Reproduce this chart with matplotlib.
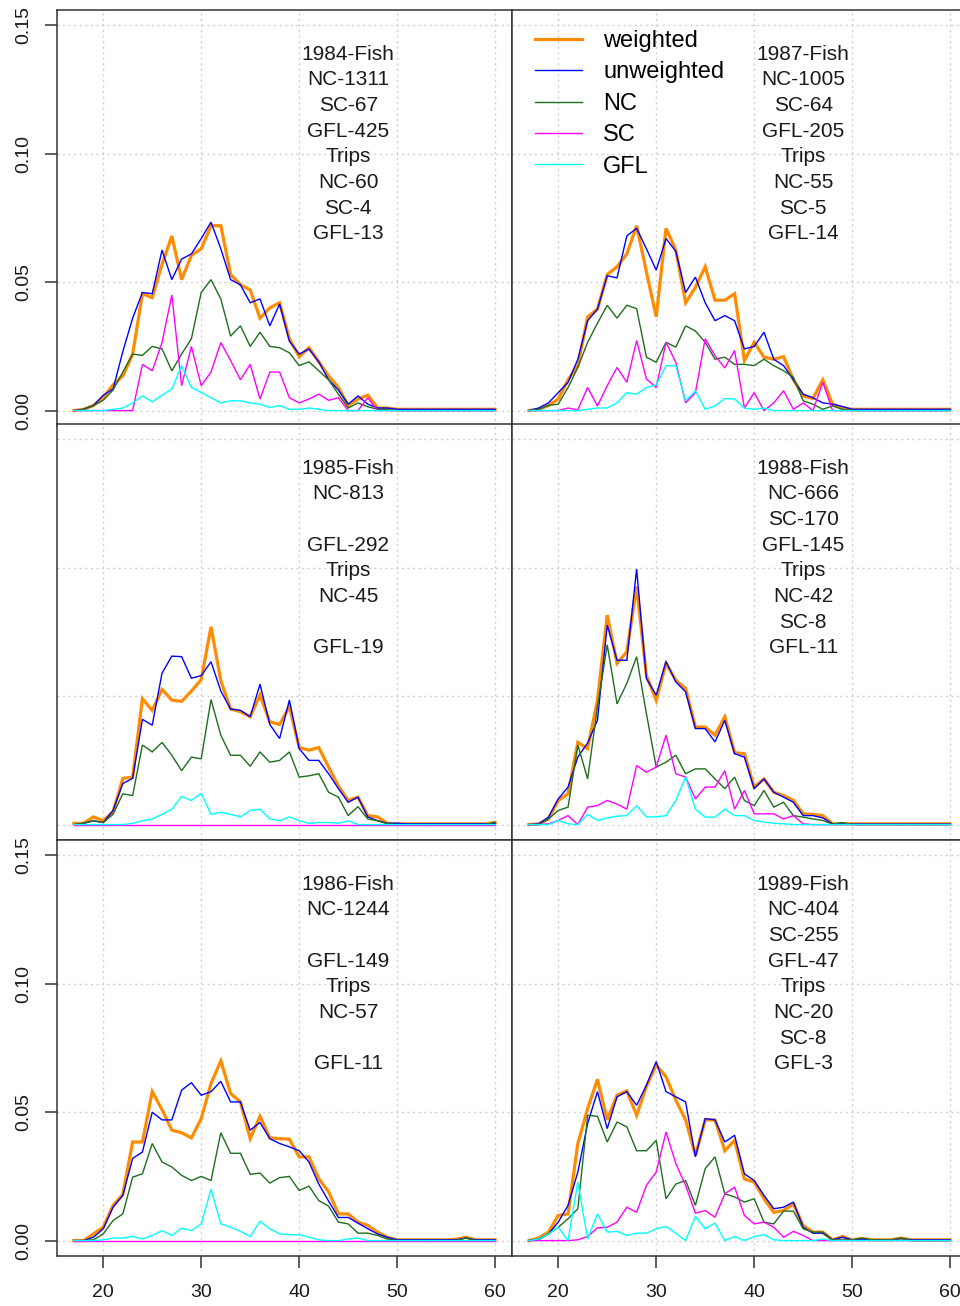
import numpy as np
import matplotlib.pyplot as plt
from matplotlib.lines import Line2D

plt.rcParams['font.family'] = ['Liberation Sans', 'DejaVu Sans']

# length bins (cm)
lengths = np.arange(17, 61)

# proportions at length, bins 17..60
weighted = {
    1984: [0, 0.0005, 0.002, 0.005, 0.010, 0.0135, 0.022, 0.0455, 0.044, 0.057, 0.068, 0.051, 0.0605, 0.063,
           0.072, 0.072, 0.053, 0.049, 0.047, 0.036, 0.040, 0.042, 0.028, 0.021, 0.0245, 0.019, 0.0135, 0.009,
           0.002, 0.0045, 0.006, 0.001, 0.001, 0.0005, 0.0005, 0.0005, 0.0005, 0.0005, 0.0005, 0.0005, 0.0005,
           0.0005, 0.0005, 0.0005],
    1985: [0.0005, 0.0005, 0.003, 0.0015, 0.005, 0.018, 0.0185, 0.049, 0.0445, 0.0526, 0.0485, 0.048, 0.052,
           0.0565, 0.077, 0.056, 0.045, 0.044, 0.042, 0.0505, 0.040, 0.039, 0.046, 0.030, 0.029, 0.030, 0.0224,
           0.015, 0.0094, 0.0107, 0.0035, 0.003, 0.0005, 0.0003, 0.0003, 0.0003, 0.0003, 0.0003, 0.0003, 0.0003,
           0.0003, 0.0003, 0.0003, 0.0008],
    1986: [0, 0, 0.0026, 0.0052, 0.0137, 0.018, 0.0384, 0.0384, 0.058, 0.051, 0.043, 0.042, 0.040, 0.0475,
           0.0612, 0.070, 0.0573, 0.054, 0.0397, 0.0484, 0.040, 0.0397, 0.0395, 0.0326, 0.0326, 0.0241, 0.019,
           0.0104, 0.0104, 0.0072, 0.0059, 0.0033, 0.0013, 0.0003, 0.0003, 0.0003, 0.0003, 0.0003, 0.0003,
           0.0005, 0.0013, 0.0003, 0.0003, 0.0003],
    1987: [0, 0.0005, 0.002, 0.0045, 0.012, 0.0175, 0.0365, 0.0395, 0.053, 0.056, 0.061, 0.072, 0.054, 0.0365,
           0.071, 0.0625, 0.042, 0.048, 0.056, 0.043, 0.043, 0.0455, 0.0195, 0.0266, 0.0208, 0.020, 0.021, 0.012,
           0.0057, 0.0047, 0.012, 0.0025, 0.001, 0.0005, 0.0005, 0.0005, 0.0005, 0.0005, 0.0005, 0.0005, 0.0005,
           0.0005, 0.0005, 0.0005],
    1988: [0, 0.0003, 0.0022, 0.0094, 0.012, 0.032, 0.0296, 0.0484, 0.0816, 0.0628, 0.0673, 0.0927, 0.058,
           0.0484, 0.0628, 0.0562, 0.053, 0.038, 0.038, 0.0348, 0.042, 0.028, 0.0276, 0.0146, 0.0178, 0.0126,
           0.0113, 0.0094, 0.0042, 0.004, 0.0035, 0.0003, 0.0003, 0.0003, 0.0003, 0.0003, 0.0003, 0.0003, 0.0003,
           0.0003, 0.0003, 0.0003, 0.0003, 0.0003],
    1989: [0, 0.001, 0.0033, 0.0098, 0.0104, 0.0378, 0.0514, 0.0628, 0.047, 0.0566, 0.0583, 0.0488, 0.060,
           0.0684, 0.0638, 0.0547, 0.047, 0.0332, 0.047, 0.047, 0.035, 0.039, 0.024, 0.0228, 0.0163, 0.011,
           0.0117, 0.0143, 0.0059, 0.0033, 0.0033, 0.0003, 0.0016, 0.0003, 0.0008, 0.0003, 0.0003, 0.0003,
           0.001, 0.0003, 0.0003, 0.0003, 0.0003, 0.0003],
}

unweighted = {
    1984: [0, 0.0005, 0.002, 0.006, 0.0084, 0.023, 0.036, 0.046, 0.0455, 0.0625, 0.051, 0.059, 0.061, 0.067,
           0.0734, 0.063, 0.051, 0.049, 0.042, 0.0435, 0.033, 0.0415, 0.027, 0.022, 0.024, 0.019, 0.012, 0.008,
           0.0025, 0.0057, 0.0025, 0.001, 0.001, 0.0005, 0.0005, 0.0005, 0.0005, 0.0005, 0.0005, 0.0005, 0.0005,
           0.0005, 0.0005, 0.0005],
    1985: [0, 0.0005, 0.0015, 0.0008, 0.0055, 0.016, 0.018, 0.041, 0.0387, 0.059, 0.0656, 0.0654, 0.057, 0.058,
           0.0634, 0.052, 0.045, 0.0445, 0.042, 0.0547, 0.039, 0.0335, 0.0485, 0.0296, 0.025, 0.025, 0.0198, 0.014,
           0.0087, 0.0107, 0.003, 0.0015, 0.0005, 0.0005, 0.0003, 0.0003, 0.0003, 0.0003, 0.0003, 0.0003, 0.0003,
           0.0003, 0.0003, 0.0003],
    1986: [0, 0, 0.0013, 0.0046, 0.013, 0.0176, 0.032, 0.0345, 0.050, 0.047, 0.047, 0.0586, 0.0615, 0.0566,
           0.058, 0.062, 0.054, 0.054, 0.043, 0.046, 0.0397, 0.0378, 0.0365, 0.035, 0.0306, 0.022, 0.0154, 0.009,
           0.009, 0.0068, 0.0046, 0.0026, 0.0013, 0.0003, 0.0003, 0.0003, 0.0003, 0.0003, 0.0003, 0.0003, 0.001,
           0.0003, 0.0003, 0.0003],
    1987: [0, 0.001, 0.003, 0.007, 0.011, 0.020, 0.035, 0.0395, 0.0525, 0.0517, 0.068, 0.071, 0.063, 0.0547,
           0.067, 0.062, 0.046, 0.052, 0.042, 0.035, 0.037, 0.035, 0.024, 0.025, 0.0305, 0.020, 0.0175, 0.012,
           0.0064, 0.005, 0.003, 0.0025, 0.0016, 0.0005, 0.0005, 0.0005, 0.0005, 0.0005, 0.0005, 0.0005, 0.0005,
           0.0005, 0.0005, 0.0005],
    1988: [0, 0.0003, 0.0029, 0.010, 0.0146, 0.0263, 0.0318, 0.0406, 0.0777, 0.064, 0.064, 0.0995, 0.0569,
           0.0504, 0.0635, 0.0556, 0.0517, 0.0374, 0.0374, 0.0322, 0.0406, 0.0276, 0.0263, 0.014, 0.0178, 0.0126,
           0.0107, 0.0087, 0.0035, 0.0035, 0.0026, 0.0003, 0.0003, 0.0002, 0.0002, 0.0002, 0.0002, 0.0002,
           0.0002, 0.0002, 0.0002, 0.0002, 0.0002, 0.0002],
    1989: [0, 0.0006, 0.0026, 0.0072, 0.0137, 0.0267, 0.0456, 0.058, 0.0436, 0.056, 0.058, 0.0527, 0.0605,
           0.0697, 0.058, 0.056, 0.054, 0.0326, 0.0475, 0.047, 0.0384, 0.041, 0.026, 0.0234, 0.0176, 0.0124,
           0.013, 0.015, 0.0052, 0.0029, 0.0029, 0.0003, 0.0013, 0.0003, 0.0006, 0.0003, 0.0003, 0.0003, 0.0008,
           0.0003, 0.0003, 0.0003, 0.0003, 0.0003],
}

nc = {
    1984: [0, 0.0005, 0.002, 0.004, 0.008, 0.015, 0.022, 0.0215, 0.025, 0.024, 0.0155, 0.022, 0.028, 0.046,
           0.051, 0.0435, 0.029, 0.033, 0.025, 0.0305, 0.025, 0.0245, 0.0225, 0.0175, 0.019, 0.0155, 0.012,
           0.0064, 0.001, 0.003, 0.0015, 0.0005, 0.0003, 0, 0, 0, 0, 0, 0, 0, 0, 0, 0, 0],
    1985: [0, 0.0005, 0.0015, 0.0008, 0.004, 0.012, 0.0113, 0.031, 0.0283, 0.032, 0.027, 0.021, 0.0263, 0.0256,
           0.0487, 0.0348, 0.027, 0.027, 0.0227, 0.0283, 0.0243, 0.025, 0.0283, 0.0185, 0.019, 0.0198, 0.0126,
           0.0107, 0.0035, 0.007, 0.0022, 0.0015, 0.0003, 0, 0, 0, 0, 0, 0, 0, 0, 0, 0, 0.001],
    1986: [0, 0, 0.0003, 0.0026, 0.0078, 0.0104, 0.0247, 0.026, 0.0378, 0.0306, 0.0287, 0.0254, 0.0234, 0.025,
           0.0234, 0.042, 0.034, 0.034, 0.0258, 0.0263, 0.0224, 0.0245, 0.025, 0.0195, 0.0212, 0.0156, 0.0134,
           0.0072, 0.0065, 0.0029, 0.0029, 0.002, 0.0006, 0, 0, 0, 0, 0, 0, 0, 0.001, 0, 0, 0],
    1987: [0, 0.0005, 0.002, 0.0025, 0.009, 0.0168, 0.0266, 0.034, 0.041, 0.036, 0.041, 0.0397, 0.0208, 0.0188,
           0.0266, 0.0247, 0.033, 0.031, 0.0266, 0.020, 0.0208, 0.018, 0.018, 0.0175, 0.020, 0.0175, 0.0155,
           0.013, 0.0038, 0.0025, 0.0005, 0.0018, 0.0005, 0, 0, 0, 0, 0, 0, 0, 0, 0, 0, 0],
    1988: [0, 0, 0.0022, 0.0055, 0.0068, 0.031, 0.0178, 0.0458, 0.070, 0.047, 0.055, 0.0654, 0.0432, 0.0224,
           0.0243, 0.027, 0.0198, 0.0217, 0.0217, 0.0178, 0.014, 0.0185, 0.0094, 0.0074, 0.0133, 0.0068, 0.0087,
           0.0035, 0.0029, 0.0022, 0.0016, 0.0002, 0.0008, 0, 0, 0, 0, 0, 0, 0, 0, 0, 0, 0],
    1989: [0, 0.0003, 0.0026, 0.0052, 0.0085, 0.0124, 0.0488, 0.0484, 0.0384, 0.0462, 0.0443, 0.035, 0.035,
           0.039, 0.0163, 0.022, 0.0234, 0.0137, 0.028, 0.0326, 0.0182, 0.017, 0.015, 0.0163, 0.0072, 0.0065,
           0.0115, 0.0115, 0.0046, 0.0033, 0.0033, 0.0003, 0.0003, 0.0003, 0.001, 0.0003, 0.0003, 0.0003, 0.001,
           0, 0, 0, 0, 0],
}

sc = {
    1984: [0, 0, 0, 0, 0, 0, 0, 0.018, 0.0155, 0.0265, 0.045, 0.0097, 0.025, 0.0097, 0.015, 0.0265, 0.0195,
           0.012, 0.018, 0.0045, 0.015, 0.015, 0.005, 0.003, 0.0045, 0.0064, 0.004, 0.005, 0, 0, 0.005, 0, 0,
           0, 0, 0, 0, 0, 0, 0, 0, 0, 0, 0],
    1985: [0] * 44,
    1986: [0] * 44,
    1987: [0, 0, 0, 0, 0.001, 0.0003, 0.009, 0.0018, 0.0097, 0.0168, 0.011, 0.0273, 0.0123, 0.009, 0.0266,
           0.0188, 0.003, 0.007, 0.028, 0.0214, 0.0166, 0.0234, 0.001, 0.007, 0, 0.003, 0.0077, 0.0005, 0.003,
           0, 0.011, 0, 0, 0, 0, 0, 0, 0, 0, 0, 0, 0, 0, 0],
    1988: [0, 0, 0.0003, 0.0016, 0.0035, 0, 0.0068, 0.0074, 0.0094, 0.008, 0.006, 0.023, 0.0204, 0.0224,
           0.0348, 0.0198, 0.0185, 0.010, 0.0146, 0.0146, 0.021, 0.006, 0.0133, 0.0042, 0.0042, 0.0042, 0.0022,
           0.0035, 0.0003, 0, 0, 0, 0, 0, 0, 0, 0, 0, 0, 0, 0, 0, 0, 0],
    1989: [0, 0, 0, 0, 0, 0.0003, 0.0016, 0.005, 0.0052, 0.0072, 0.013, 0.011, 0.0215, 0.0267, 0.0423, 0.030,
           0.0215, 0.0107, 0.0117, 0.0091, 0.0182, 0.0208, 0.0098, 0.0065, 0.0072, 0.0052, 0.0013, 0.0036,
           0.002, 0, 0, 0, 0, 0, 0, 0, 0, 0, 0, 0, 0, 0, 0, 0],
}

gfl = {
    1984: [0, 0, 0, 0, 0.0005, 0.001, 0.003, 0.0057, 0.0034, 0.006, 0.0084, 0.0175, 0.009, 0.007, 0.005,
           0.003, 0.0038, 0.0038, 0.003, 0.0025, 0.0012, 0.002, 0.0005, 0.0005, 0.001, 0.0005, 0, 0, 0, 0, 0,
           0, 0, 0, 0, 0, 0, 0, 0, 0, 0, 0, 0, 0],
    1985: [0, 0, 0, 0, 0, 0, 0.0005, 0.0015, 0.0022, 0.004, 0.006, 0.011, 0.0094, 0.0122, 0.004, 0.0048,
           0.004, 0.003, 0.0055, 0.006, 0.0022, 0.0015, 0.003, 0.0015, 0.0005, 0.0008, 0.0008, 0.0005, 0.0015,
           0, 0, 0, 0, 0, 0, 0, 0, 0, 0, 0, 0, 0, 0, 0],
    1986: [0, 0, 0, 0.0003, 0.001, 0.001, 0.0016, 0.0006, 0.002, 0.0039, 0.002, 0.0048, 0.0039, 0.0065, 0.020,
           0.0065, 0.0052, 0.0036, 0.0016, 0.0075, 0.0046, 0.0026, 0.0023, 0.0023, 0.0013, 0.0003, 0, 0,
           0.0006, 0.001, 0, 0, 0, 0, 0, 0, 0, 0, 0, 0, 0, 0, 0, 0],
    1987: [0, 0, 0, 0, 0, 0, 0.0005, 0.001, 0.001, 0.003, 0.007, 0.0064, 0.009, 0.010, 0.0175, 0.0175, 0.0038,
           0.0077, 0.0005, 0.0018, 0.0047, 0.0045, 0.001, 0.0005, 0.001, 0, 0, 0, 0, 0, 0, 0, 0, 0, 0, 0, 0,
           0, 0, 0, 0, 0, 0, 0],
    1988: [0, 0, 0, 0.0016, 0.0003, 0, 0.004, 0.0016, 0.0026, 0.0033, 0.0035, 0.0074, 0.003, 0.003, 0.0035,
           0.0094, 0.0185, 0.006, 0.0029, 0.0029, 0.006, 0.0035, 0.0035, 0.0016, 0.001, 0.0005, 0.0003, 0, 0,
           0, 0, 0, 0, 0, 0, 0, 0, 0, 0, 0, 0, 0, 0, 0],
    1989: [0, 0.0006, 0.0026, 0.0052, 0, 0.0228, 0.0006, 0.0104, 0.0033, 0.0036, 0.002, 0.0029, 0.0029,
           0.0046, 0.0055, 0.0029, 0, 0.0094, 0.0046, 0.0068, 0, 0.0016, 0, 0.0016, 0.0023, 0.0003, 0, 0, 0, 0,
           0.0006, 0, 0, 0, 0, 0, 0, 0, 0, 0, 0, 0, 0, 0],
}

# sample sizes printed in each panel
notes = {
    1984: ['1984-Fish', 'NC-1311', 'SC-67', 'GFL-425', 'Trips', 'NC-60', 'SC-4', 'GFL-13'],
    1985: ['1985-Fish', 'NC-813', '', 'GFL-292', 'Trips', 'NC-45', '', 'GFL-19'],
    1986: ['1986-Fish', 'NC-1244', '', 'GFL-149', 'Trips', 'NC-57', '', 'GFL-11'],
    1987: ['1987-Fish', 'NC-1005', 'SC-64', 'GFL-205', 'Trips', 'NC-55', 'SC-5', 'GFL-14'],
    1988: ['1988-Fish', 'NC-666', 'SC-170', 'GFL-145', 'Trips', 'NC-42', 'SC-8', 'GFL-11'],
    1989: ['1989-Fish', 'NC-404', 'SC-255', 'GFL-47', 'Trips', 'NC-20', 'SC-8', 'GFL-3'],
}
note_y = [0.14, 0.13, 0.12, 0.11, 0.10, 0.09, 0.08, 0.07]

series_names = ['weighted', 'unweighted', 'NC', 'SC', 'GFL']
colors = ['#ff8c00', '#0000ff', '#1e6e1e', '#ff00ff', '#00ffff']
widths = [2.3, 1.0, 1.0, 1.0, 1.0]

W, H = 960, 1306
fig = plt.figure(figsize=(W / 100, H / 100), dpi=100)

col_left = [57, 512]
row_top = [10, 424, 840]
panel_w, panel_h = 455, 416

layout = [(1984, 0, 0), (1985, 1, 0), (1986, 2, 0),
          (1987, 0, 1), (1988, 1, 1), (1989, 2, 1)]

for yr, r, c in layout:
    x0 = col_left[c] / W
    y0 = 1 - (row_top[r] + panel_h) / H
    ax = fig.add_axes([x0, y0, panel_w / W, panel_h / H])
    ax.set_xlim(15.28, 61.72)
    ax.set_ylim(-0.006, 0.156)

    for v in [20, 30, 40, 50, 60]:
        ax.axvline(v, color='#cfcfcf', lw=1.0, ls=(0, (1.5, 2.5)), zorder=0)
    for v in [0, 0.05, 0.10, 0.15]:
        ax.axhline(v, color='#cfcfcf', lw=1.0, ls=(0, (1.5, 2.5)), zorder=0)

    for data, col, lw in zip([weighted, unweighted, nc, sc, gfl], colors, widths):
        ax.plot(lengths, data[yr], color=col, lw=lw, solid_joinstyle='miter')

    for txt, yy in zip(notes[yr], note_y):
        if txt:
            ax.text(45, yy - 0.0012, txt, ha='center', va='center', fontsize=15, color='#1a1a1a')

    for s in ax.spines.values():
        s.set_color('#333333')
        s.set_linewidth(1.1)

    ax.set_xticks([20, 30, 40, 50, 60])
    ax.set_yticks([0, 0.05, 0.10, 0.15])
    ax.tick_params(length=8.5, width=1.1, color='#333333', labelsize=14, labelcolor='#1a1a1a')
    ax.tick_params(axis='x', pad=12)
    ax.tick_params(axis='y', pad=9)
    if r == 2:
        ax.set_xticklabels(['20', '30', '40', '50', '60'])
    else:
        ax.tick_params(axis='x', length=0, labelbottom=False)
    if c == 0 and r != 1:
        ax.set_yticklabels(['0.00', '0.05', '0.10', '0.15'])
        plt.setp(ax.get_yticklabels(), rotation=90, va='center', ha='right')
    else:
        ax.tick_params(axis='y', length=0, labelleft=False)

    if yr == 1987:
        handles = [Line2D([], [], color=col, lw=lw) for col, lw in zip(colors, widths)]
        ax.legend(handles, series_names, loc='upper left', bbox_to_anchor=(0.05, 0.952),
                  frameon=False, fontsize=17, handlelength=2.0, handletextpad=0.9,
                  labelspacing=0.4, borderpad=0, borderaxespad=0)

fig.savefig('out.png', dpi=100)
